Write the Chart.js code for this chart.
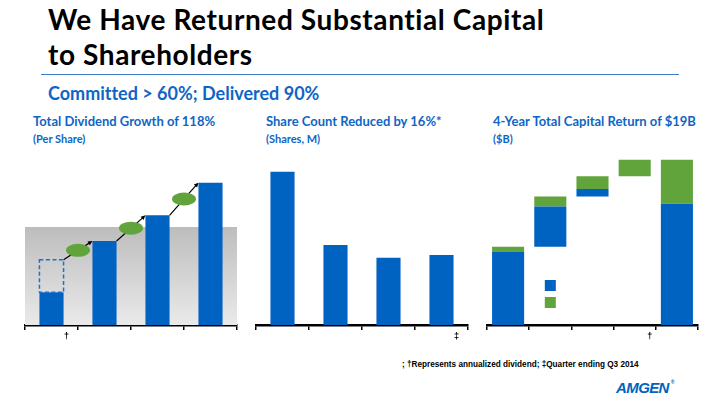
<!DOCTYPE html>
<html>
<head>
<meta charset="utf-8">
<script src="https://cdn.jsdelivr.net/npm/chart.js@4"></script>
<style>
    body { margin: 0; width: 720px; height: 405px; overflow: hidden; background: #fff; position: relative; font-family: 'Lato', 'Open Sans', sans-serif; font-variant-ligatures: none; }
    .abs { position: absolute; white-space: nowrap; }
    #title { left: 48px; top: 2px; font-size: 28px; line-height: 35px; letter-spacing: 0.6px; font-weight: bold; color: #000; }
    #rule { left: 41px; top: 74px; width: 638px; height: 0; border-top: 1.5px solid #3f7fc9; }
    #subtitle { left: 48px; top: 84px; font-size: 18px; line-height: 1; font-weight: bold; color: #0f65c4; }
    .head { font-size: 13px; line-height: 1; font-weight: bold; color: #0f65c4; top: 115px; }
    .unit { font-size: 11px; line-height: 1; font-weight: bold; color: #0f65c4; top: 133px; }
    #note { left: 402px; top: 361px; font-family: 'Liberation Sans', Arial, sans-serif; font-size: 8.2px; line-height: 1; font-weight: bold; color: #000; }
    #logo { left: 616px; top: 380px; font-family: 'Liberation Sans', Arial, sans-serif; font-size: 15px; line-height: 1; font-weight: bold; font-style: italic; letter-spacing: -0.6px; color: #0063be; }
    #logo sup { font-size: 5px; font-style: normal; letter-spacing: 0; vertical-align: 9px; margin-left: 2px; }
    canvas { position: absolute; }
</style>
</head>
<body>
<div id="title" class="abs">We Have Returned Substantial Capital<br>to Shareholders</div>
<div id="rule" class="abs"></div>
<div id="subtitle" class="abs">Committed &gt; 60%; Delivered 90%</div>

<div class="abs head" style="left:33px">Total Dividend Growth of 118%</div>
<div class="abs unit" style="left:33px">(Per Share)</div>
<div class="abs head" style="left:266px">Share Count Reduced by 16%*</div>
<div class="abs unit" style="left:266px">(Shares, M)</div>
<div class="abs head" style="left:493px">4-Year Total Capital Return of $19B</div>
<div class="abs unit" style="left:493px">($B)</div>

<canvas id="dividendChart" width="216" height="195" style="left:23px; top:150px"></canvas>
<canvas id="shareChart" width="216" height="195" style="left:254px; top:150px"></canvas>
<canvas id="returnChart" width="215" height="195" style="left:485px; top:150px"></canvas>

<div id="note" class="abs">; †Represents annualized dividend; ‡Quarter ending Q3 2014</div>
<div id="logo" class="abs">AMGEN<sup>®</sup></div>

<script>
// Dividendos por accion
const dividendYears = ['2011', '2012', '2013', '2014'];
const dividendPaid = [0.56, 1.44, 1.88, 2.44];
const dividendAnnualized = [1.12, null, null, null];
const dividendMarks = ['†', '', '', ''];
const dividendBand = 1.68;
const dividendMax = 3;

// Acciones en circulacion (M)
const shareYears = ['2011', '2012', '2013', 'Q3 2014'];
const shareCount = [936, 804, 781, 786];
const shareMarks = ['', '', '', '‡'];
const shareMin = 660;
const shareMax = 975;

// Retorno de capital ($B)
const returnYears = ['2011', '2012', '2013', '2014', 'Total'];
const returnBuybacks = [8.4, 4.6, 0.85, 0, 13.85];
const returnDividends = [0.55, 1.15, 1.45, 1.9, 5.05];
const returnMarks = ['', '', '', '†', ''];
const returnMax = 20;

const BLUE = '#0062c1';
const GREEN = '#62a43c';

function xAxis(marks) {
    return {
        offset: true,
        grid: {
            offset: true,
            drawOnChartArea: false,
            drawTicks: true,
            tickLength: 5,
            color: '#000',
            lineWidth: 1.5
        },
        border: { display: true, color: '#000', width: 2.5 },
        ticks: {
            callback: (value, index) => marks[index],
            labelOffset: 15,
            padding: 1,
            autoSkip: false,
            maxRotation: 0,
            color: '#000',
            font: { family: 'Liberation Sans', size: 9, weight: 'bold' }
        },
        afterFit: scale => { scale.height = 20; }
    };
}

function baseOptions(marks, y) {
    return {
        responsive: false,
        animation: false,
        layout: { padding: { left: 2, right: 2, top: 0, bottom: 0 } },
        scales: {
            x: xAxis(marks),
            y: Object.assign({ display: false }, y)
        },
        plugins: {
            legend: { display: false },
            tooltip: { enabled: false }
        }
    };
}

// fondo gris con degradado
const bandPlugin = {
    id: 'band',
    beforeDatasetsDraw(chart) {
        const { ctx, chartArea, scales } = chart;
        const top = scales.y.getPixelForValue(dividendBand);
        const g = ctx.createLinearGradient(0, top, 0, chartArea.bottom);
        g.addColorStop(0, '#bdbdbd');
        g.addColorStop(1, '#eaeaea');
        ctx.save();
        ctx.fillStyle = g;
        ctx.fillRect(chartArea.left, top, chartArea.right - chartArea.left, chartArea.bottom - top);
        ctx.restore();
    }
};

// caja punteada, flechas y elipses verdes
const growthPlugin = {
    id: 'growth',
    afterDatasetsDraw(chart) {
        const ctx = chart.ctx;
        const paid = chart.getDatasetMeta(0).data;
        const annual = chart.getDatasetMeta(1).data;

        ctx.save();
        annual.forEach((el, i) => {
            if (dividendAnnualized[i] == null) return;
            ctx.strokeStyle = '#1f6fd0';
            ctx.lineWidth = 1.5;
            ctx.setLineDash([4, 2.5]);
            ctx.strokeRect(el.x - el.width / 2, el.y, el.width, el.base - el.y);
        });
        ctx.setLineDash([]);

        for (let i = 0; i < paid.length - 1; i++) {
            const a = paid[i], b = paid[i + 1];
            let topA = a.y;
            if (dividendAnnualized[i] != null) topA = Math.min(topA, annual[i].y);
            const x1 = a.x + a.width / 2, y1 = topA;
            const x2 = b.x - b.width / 2, y2 = b.y;
            const ang = Math.atan2(y2 - y1, x2 - x1);

            ctx.strokeStyle = '#000';
            ctx.fillStyle = '#000';
            ctx.lineWidth = 1.2;
            ctx.beginPath();
            ctx.moveTo(x1, y1);
            ctx.lineTo(x2 - 3 * Math.cos(ang), y2 - 3 * Math.sin(ang));
            ctx.stroke();
            ctx.beginPath();
            ctx.moveTo(x2, y2);
            ctx.lineTo(x2 - 5 * Math.cos(ang - 0.45), y2 - 5 * Math.sin(ang - 0.45));
            ctx.lineTo(x2 - 5 * Math.cos(ang + 0.45), y2 - 5 * Math.sin(ang + 0.45));
            ctx.closePath();
            ctx.fill();

            ctx.fillStyle = GREEN;
            ctx.beginPath();
            ctx.ellipse((x1 + x2) / 2, (y1 + y2) / 2, 12, 6.5, 0, 0, Math.PI * 2);
            ctx.fill();
        }
        ctx.restore();
    }
};

// cuadros de leyenda sin texto
const keyPlugin = {
    id: 'key',
    afterDatasetsDraw(chart) {
        const { ctx, chartArea, scales } = chart;
        const cx = scales.x.getPixelForValue(1);
        ctx.save();
        ctx.fillStyle = BLUE;
        ctx.fillRect(cx - 5.5, chartArea.bottom - 45, 11, 11);
        ctx.fillStyle = GREEN;
        ctx.fillRect(cx - 5.5, chartArea.bottom - 28, 11, 11);
        ctx.restore();
    }
};

function createDividendChart() {
    const ctx = document.getElementById('dividendChart').getContext('2d');
    const annualRanges = dividendAnnualized.map((v, i) => v == null ? null : [dividendPaid[i], v]);
    new Chart(ctx, {
        type: 'bar',
        data: {
            labels: dividendYears,
            datasets: [
                {
                    label: 'Dividend paid',
                    data: dividendPaid,
                    backgroundColor: BLUE,
                    categoryPercentage: 1,
                    barPercentage: 0.455,
                    grouped: false
                },
                {
                    label: 'Annualized',
                    data: annualRanges,
                    backgroundColor: 'rgba(0,0,0,0)',
                    borderWidth: 0,
                    categoryPercentage: 1,
                    barPercentage: 0.455,
                    grouped: false
                }
            ]
        },
        options: baseOptions(dividendMarks, { min: 0, max: dividendMax }),
        plugins: [bandPlugin, growthPlugin]
    });
}

function createShareChart() {
    const ctx = document.getElementById('shareChart').getContext('2d');
    new Chart(ctx, {
        type: 'bar',
        data: {
            labels: shareYears,
            datasets: [{
                label: 'Shares',
                data: shareCount,
                backgroundColor: BLUE,
                categoryPercentage: 1,
                barPercentage: 0.455
            }]
        },
        options: baseOptions(shareMarks, { min: shareMin, max: shareMax })
    });
}

function createReturnChart() {
    const ctx = document.getElementById('returnChart').getContext('2d');

    // cascada: cada año arranca donde termino el anterior, el total desde cero
    let running = 0;
    const buybackRanges = [];
    const dividendRanges = [];
    returnYears.forEach((year, i) => {
        const base = i === returnYears.length - 1 ? 0 : running;
        const bb = returnBuybacks[i];
        const dv = returnDividends[i];
        buybackRanges.push(bb > 0 ? [base, base + bb] : null);
        dividendRanges.push([base + bb, base + bb + dv]);
        running = base + bb + dv;
    });

    new Chart(ctx, {
        type: 'bar',
        data: {
            labels: returnYears,
            datasets: [
                {
                    label: 'Share repurchases',
                    data: buybackRanges,
                    backgroundColor: BLUE,
                    categoryPercentage: 1,
                    barPercentage: 0.76,
                    grouped: false
                },
                {
                    label: 'Dividends',
                    data: dividendRanges,
                    backgroundColor: GREEN,
                    categoryPercentage: 1,
                    barPercentage: 0.76,
                    grouped: false
                }
            ]
        },
        options: baseOptions(returnMarks, { min: 0, max: returnMax }),
        plugins: [keyPlugin]
    });
}

createDividendChart();
createShareChart();
createReturnChart();
</script>
</body>
</html>
